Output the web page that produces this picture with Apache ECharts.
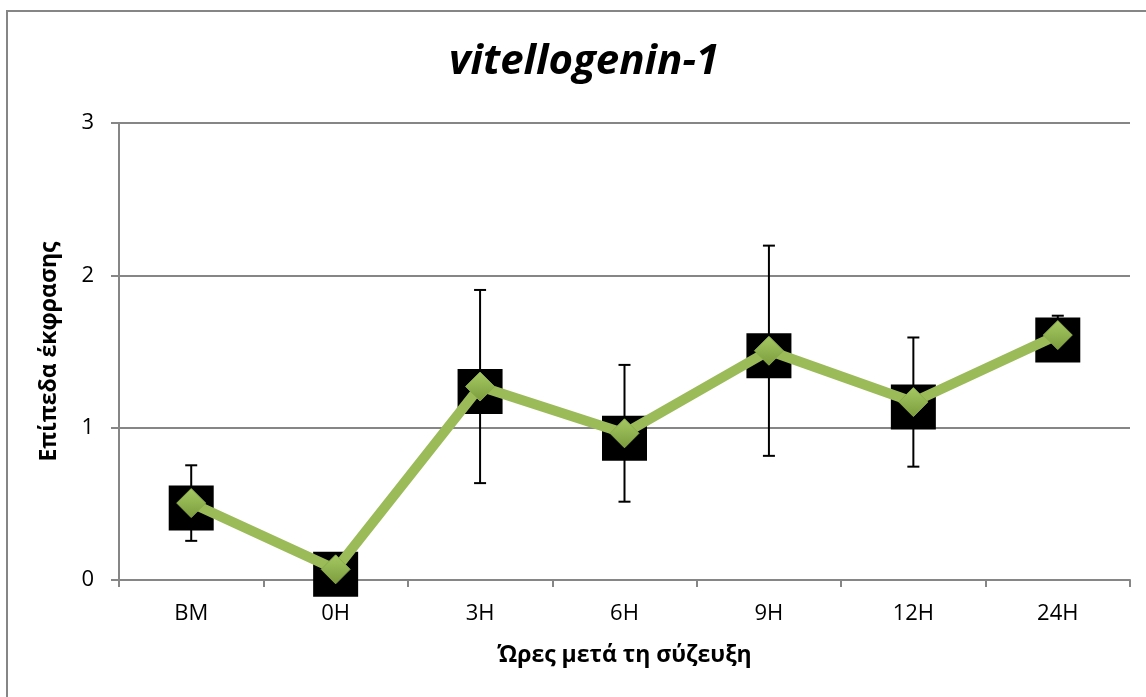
<!DOCTYPE html>
<html>
<head>
<meta charset="utf-8">
<script src="https://cdn.jsdelivr.net/npm/echarts@6/dist/echarts.min.js"></script>
<style>
  html, body { margin: 0; padding: 0; background: #fff; }
  #chart { width: 1146px; height: 697px; }
</style>
</head>
<body>
<div id="chart"></div>
<script>
// data
const categories = ['BM', '0H', '3H', '6H', '9H', '12H', '24H'];
const expression = [0.505, 0.07, 1.27, 0.963, 1.505, 1.168, 1.608];
const errors = [0.248, 0.02, 0.634, 0.449, 0.69, 0.424, 0.127];
const yTicks = [0, 1, 2, 3];

const FONT = '"Open Sans", "Noto Sans", sans-serif';
const green = '#9BBB59';

const chart = echarts.init(document.getElementById('chart'));

const errorData = expression.map((v, i) => [i, v - errors[i], v + errors[i]]);

chart.setOption({
  animation: false,
  title: {
    text: 'vitellogenin-1',
    left: 579,
    top: 36,
    textAlign: 'center',
    textStyle: { fontFamily: FONT, fontSize: 42, fontWeight: 'bold', fontStyle: 'italic', color: '#000' }
  },
  graphic: [{
    type: 'rect',
    shape: { x: 7, y: 11, width: 1300, height: 900 },
    style: { fill: 'none', stroke: '#868686', lineWidth: 2 },
    silent: true,
    z: -10
  }],
  grid: { left: 119, top: 123, width: 1011, height: 457 },
  xAxis: {
    type: 'category',
    data: categories,
    boundaryGap: true,
    name: 'Ώρες μετά τη σύζευξη',
    nameLocation: 'middle',
    nameGap: 64,
    nameTextStyle: { fontFamily: FONT, fontSize: 23, fontWeight: 'bold', color: '#000' },
    axisLine: { lineStyle: { color: '#868686', width: 2 } },
    axisTick: { show: true, length: 7, alignWithLabel: false, lineStyle: { color: '#868686', width: 2 } },
    axisLabel: { margin: 23, fontFamily: FONT, fontSize: 22, color: '#000' }
  },
  yAxis: {
    type: 'value',
    min: yTicks[0],
    max: yTicks[yTicks.length - 1],
    interval: 1,
    name: 'Επίπεδα έκφρασης',
    nameLocation: 'middle',
    nameGap: 58,
    nameTextStyle: { fontFamily: FONT, fontSize: 23, fontWeight: 'bold', color: '#000' },
    axisLine: { show: true, lineStyle: { color: '#868686', width: 2 } },
    axisTick: { show: true, length: 8, lineStyle: { color: '#868686', width: 2 } },
    axisLabel: { margin: 25, fontFamily: FONT, fontSize: 22, color: '#000' },
    splitLine: { lineStyle: { color: '#868686', width: 2 } }
  },
  series: [
    {
      type: 'custom',
      name: 'error',
      data: errorData,
      z: 1,
      clip: false,
      renderItem: (params, api) => {
        const x = api.value(0);
        const lo = api.coord([x, api.value(1)]);
        const hi = api.coord([x, api.value(2)]);
        const w = 6;
        const style = { stroke: '#000', lineWidth: 2 };
        return {
          type: 'group',
          children: [
            { type: 'line', shape: { x1: hi[0], y1: hi[1], x2: lo[0], y2: lo[1] }, style },
            { type: 'line', shape: { x1: hi[0] - w, y1: hi[1], x2: hi[0] + w, y2: hi[1] }, style },
            { type: 'line', shape: { x1: lo[0] - w, y1: lo[1], x2: lo[0] + w, y2: lo[1] }, style }
          ]
        };
      }
    },
    {
      type: 'scatter',
      name: 'box',
      data: expression,
      symbol: 'rect',
      symbolSize: 45,
      symbolOffset: [0, 5],
      itemStyle: { color: '#000', opacity: 1 },
      clip: false,
      z: 2
    },
    {
      type: 'line',
      name: 'vitellogenin-1',
      data: expression,
      symbol: 'diamond',
      symbolSize: 29,
      showAllSymbol: true,
      clip: false,
      lineStyle: { color: green, width: 10 },
      itemStyle: {
        color: new echarts.graphic.LinearGradient(0, 0, 0, 1, [
          { offset: 0, color: '#a6c964' },
          { offset: 1, color: '#7c9c3c' }
        ]),
        borderColor: '#8aab4a',
        borderWidth: 1
      },
      z: 3
    }
  ]
});
</script>
</body>
</html>
